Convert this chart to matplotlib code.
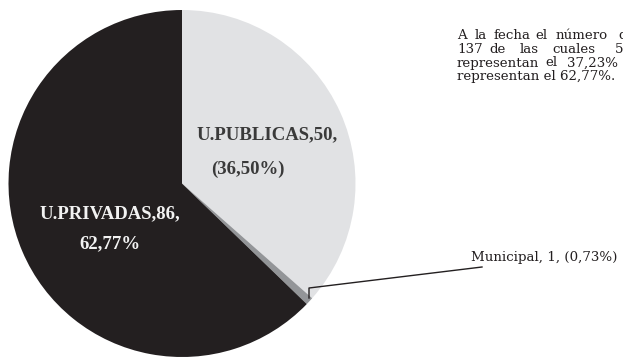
import matplotlib.pyplot as plt

# Universities by type
sectors = ['U.PUBLICAS', 'Municipal', 'U.PRIVADAS']
counts = [50, 1, 86]
colors = ['#e1e2e4', '#939598', '#231f20']

total = sum(counts)
pcts = [100 * c / total for c in counts]


def pct_es(p):
    return f"{p:.2f}".replace('.', ',') + '%'


W, H = 623, 358
fig = plt.figure(figsize=(W / 100, H / 100), dpi=100)
ax = fig.add_axes([0, 0, 1, 1])

ax.pie(counts, colors=colors, startangle=90, counterclock=False,
       center=(182, H - 183.5), radius=173.5,
       wedgeprops=dict(linewidth=0))
ax.set_xlim(0, W)
ax.set_ylim(0, H)
ax.set_aspect('equal')
ax.axis('off')

serif = 'DejaVu Serif'

# slice labels
lab = dict(family='Liberation Serif', fontsize=13.5, fontweight='bold',
           ha='center', va='center')
ax.text(267, H - 135, f"{sectors[0]},{counts[0]},", color='#3a3a3a', **lab)
ax.text(248, H - 169, f"({pct_es(pcts[0])})", color='#3a3a3a', **lab)
ax.text(110, H - 214, f"{sectors[2]},{counts[2]},", color='#f2f2f2', **lab)
ax.text(110, H - 244, pct_es(pcts[2]), color='#f2f2f2', **lab)

# leader line for the small slice
ax.plot([309, 309, 482], [H - 298, H - 288, H - 267], color='#231f20', lw=1)
ax.text(471, H - 261, f"{sectors[1]}, {counts[1]}, ({pct_es(pcts[1])})",
        family=serif, fontsize=9.6, color='#231f20', ha='left', va='baseline')

# side note (justified paragraph, runs past the right edge)
note = [
    (39, [(457, 'A'), (475, 'la'), (494, 'fecha'), (535, 'el'), (556, 'número'), (618, 'de')]),
    (53, [(457, '137'), (489, 'de'), (520, 'las'), (552, 'cuales'), (615, '51')]),
    (66.5, [(457, 'representan'), (545, 'el'), (567, '37,23%')]),
    (80, [(457, 'representan el 62,77%.')]),
]
for base, words in note:
    for x, w in words:
        ax.text(x, H - base, w, family=serif, fontsize=9.6, color='#231f20',
                ha='left', va='baseline')

fig.savefig('out.png', dpi=100)
